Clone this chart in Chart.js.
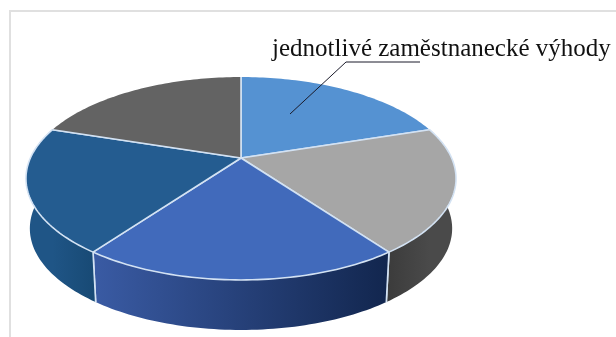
<!DOCTYPE html>
<html>
<head>
<meta charset="utf-8">
<style>
  body { margin: 0; background: #fff; }
  #wrap { position: relative; width: 616px; height: 337px; overflow: hidden; }
  #frame { position: absolute; left: 9px; top: 10px; right: 0; bottom: 0; border-left: 2px solid #e0e0e0; border-top: 2px solid #e0e0e0; }
  canvas { position: absolute; left: 0; top: 0; }
</style>
<script src="https://cdn.jsdelivr.net/npm/chart.js@4"></script>
</head>
<body>
<div id="wrap">
  <div id="frame"></div>
  <canvas id="myChart" width="616" height="337"></canvas>
</div>
<script>
const categories = ['1', '2', '3', '4', '5'];
const values = [20, 20, 20, 20, 20];
const topColors = ['#5592d2', '#a6a6a6', '#416abb', '#245c90', '#636363'];
const wallLeft = ['#000000', '#3c3c3c', '#3a5ba4', '#1f5586', '#000000'];
const wallRight = ['#000000', '#4a4a4a', '#12264e', '#184a75', '#000000'];
const labelText = 'jednotlivé zaměstnanecké výhody';

// perspective of the disc
const cx = 241, apexY = 158, slopeY = 65.4, persp = -0.202, sizeX = 210.6;
const depth = 50, bottomScale = 0.982;
const wallFrom = -Math.PI * 0.1, wallTo = Math.PI * 1.1;

function project(angle, low) {
    const u = Math.cos(angle), v = Math.sin(angle);
    const w = 1 + persp * v;
    const s = low ? bottomScale : 1;
    return [cx + s * sizeX * u / w, (apexY + slopeY * v) / w + (low ? depth : 0)];
}

function rim(ctx, from, to, low) {
    const steps = 60;
    for (let i = 0; i <= steps; i++) {
        const p = project(from + (to - from) * i / steps, low);
        ctx.lineTo(p[0], p[1]);
    }
}

function drawTop(ctx) {
    const o = this.options;
    ctx.beginPath();
    ctx.moveTo(cx, apexY);
    rim(ctx, this.startAngle, this.endAngle, false);
    ctx.closePath();
    ctx.fillStyle = o.backgroundColor;
    ctx.fill();

    // the light outline only shows on the spokes and on the front of the rim
    ctx.lineWidth = o.borderWidth;
    ctx.strokeStyle = o.borderColor;
    ctx.lineJoin = 'round';
    [this.startAngle, this.endAngle].forEach(a => {
        const p = project(a, false);
        ctx.beginPath();
        ctx.moveTo(cx, apexY);
        ctx.lineTo(p[0], p[1]);
        ctx.stroke();
    });
    const from = Math.max(this.startAngle, wallFrom);
    const to = Math.min(this.endAngle, wallTo);
    if (to > from) {
        ctx.beginPath();
        rim(ctx, from, to, false);
        ctx.stroke();
    }
}

function drawWall(ctx, arc, i) {
    const from = Math.max(arc.startAngle, wallFrom);
    const to = Math.min(arc.endAngle, wallTo);
    if (to <= from) return;
    const xa = project(from, false)[0], xb = project(to, false)[0];
    const grad = ctx.createLinearGradient(Math.min(xa, xb), 0, Math.max(xa, xb), 0);
    grad.addColorStop(0, wallLeft[i]);
    grad.addColorStop(1, wallRight[i]);
    ctx.beginPath();
    rim(ctx, from, to, false);
    rim(ctx, to, from, true);
    ctx.closePath();
    ctx.fillStyle = grad;
    ctx.fill();
    ctx.lineWidth = arc.options.borderWidth;
    ctx.strokeStyle = arc.options.borderColor;
    [arc.startAngle, arc.endAngle].forEach(a => {
        if (a <= wallFrom || a >= wallTo) return;
        const p = project(a, false), q = project(a, true);
        ctx.beginPath();
        ctx.moveTo(p[0], p[1]);
        ctx.lineTo(q[0], q[1]);
        ctx.stroke();
    });
}

const pie3d = {
    id: 'pie3d',
    beforeDatasetsDraw(chart) {
        const arcs = chart.getDatasetMeta(0).data;
        arcs.forEach((arc, i) => {
            arc.draw = drawTop;
            drawWall(chart.ctx, arc, i);
        });
    },
    afterDatasetsDraw(chart) {
        const ctx = chart.ctx;
        ctx.save();
        ctx.fillStyle = '#111';
        ctx.font = '25px "Liberation Serif"';
        ctx.textBaseline = 'alphabetic';
        ctx.fillText(labelText, 272, 56);
        ctx.beginPath();
        ctx.moveTo(420, 62);
        ctx.lineTo(346, 62);
        ctx.lineTo(290, 114);
        ctx.lineWidth = 1;
        ctx.strokeStyle = '#1a1a2a';
        ctx.stroke();
        ctx.restore();
    }
};

new Chart(document.getElementById('myChart'), {
    type: 'pie',
    data: {
        labels: categories,
        datasets: [{
            data: values,
            backgroundColor: topColors,
            borderColor: '#d3e2f3',
            borderWidth: 1.6
        }]
    },
    options: {
        responsive: false,
        animation: false,
        plugins: { legend: { display: false }, tooltip: { enabled: false } }
    },
    plugins: [pie3d]
});
</script>
</body>
</html>
